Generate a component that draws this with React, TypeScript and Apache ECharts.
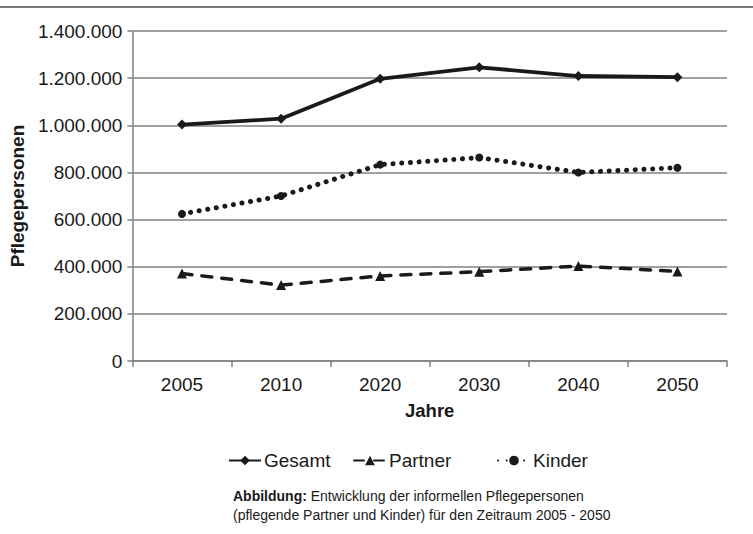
import React, { useEffect, useRef } from "react";
import * as echarts from "echarts";

const years = ["2005", "2010", "2020", "2030", "2040", "2050"];
const gesamt = [1003000, 1028000, 1197000, 1246000, 1209000, 1204000];
const partner = [371000, 322000, 361000, 379000, 403000, 380000];
const kinder = [624000, 700000, 833000, 863000, 800000, 820000];
const yTicks = { min: 0, max: 1400000, interval: 200000 };

const FONT = "'Liberation Sans', Arial, sans-serif";
const INK = "#1a1a1a";

function fmt(v: number): string {
  return String(v).replace(/\B(?=(\d{3})+(?!\d))/g, ".");
}

export default function App() {
  const ref = useRef<HTMLDivElement>(null);
  useEffect(() => {
    if (!ref.current) return;
    const chart = echarts.init(ref.current, undefined, { renderer: "svg" });
    const legendBase = {
      top: 451,
      padding: 0,
      itemWidth: 32,
      itemHeight: 12,
      itemGap: 0,
      textStyle: { fontFamily: FONT, fontSize: 19, color: INK, padding: [0, 0, 0, -2] },
    };
    chart.setOption({
      animation: false,
      backgroundColor: "#ffffff",
      textStyle: { fontFamily: FONT },
      grid: { left: 126, right: 26, top: 31, bottom: 173, containLabel: false },
      legend: [
        { ...legendBase, left: 228, data: ["Gesamt"] },
        { ...legendBase, left: 353, data: ["Partner"] },
        { ...legendBase, left: 497, data: ["Kinder"] },
      ],
      graphic: [
        {
          type: "line",
          shape: { x1: 0, y1: 7, x2: 753, y2: 7 },
          style: { stroke: "#7a7a7a", lineWidth: 2 },
        },
        {
          type: "text",
          left: 233,
          top: 486,
          style: {
            text: "{b|Abbildung:} Entwicklung der informellen Pflegepersonen\n(pflegende Partner und Kinder) für den Zeitraum 2005 - 2050",
            fontFamily: FONT,
            fontSize: 14,
            lineHeight: 19,
            fill: INK,
            rich: {
              b: { fontWeight: "bold", fontFamily: FONT, fontSize: 14, fill: INK },
            },
          },
        },
      ],
      xAxis: {
        type: "category",
        data: years,
        boundaryGap: true,
        name: "Jahre",
        nameLocation: "middle",
        nameGap: 40,
        nameTextStyle: { fontFamily: FONT, fontSize: 18.5, fontWeight: "bold", color: INK },
        axisLine: { lineStyle: { color: "#808080", width: 1.5 } },
        axisTick: { show: true, length: 6, lineStyle: { color: "#808080", width: 1.5 } },
        axisLabel: { fontFamily: FONT, fontSize: 19, color: INK, margin: 14 },
        splitLine: { show: false },
      },
      yAxis: {
        type: "value",
        min: yTicks.min,
        max: yTicks.max,
        interval: yTicks.interval,
        name: "Pflegepersonen",
        nameLocation: "middle",
        nameGap: 100,
        nameTextStyle: { fontFamily: FONT, fontSize: 19, fontWeight: "bold", color: INK },
        axisLine: { show: true, lineStyle: { color: "#808080", width: 1.5 } },
        axisTick: { show: true, length: 5, lineStyle: { color: "#808080", width: 1.5 } },
        axisLabel: { fontFamily: FONT, fontSize: 19, color: INK, margin: 10, formatter: (v: number) => fmt(v) },
        splitLine: { show: true, lineStyle: { color: "#808080", width: 1.5 } },
      },
      series: [
        {
          name: "Gesamt",
          type: "line",
          data: gesamt,
          symbol: "diamond",
          symbolSize: 10,
          itemStyle: { color: INK },
          lineStyle: { color: INK, width: 3.8, type: "solid" },
        },
        {
          name: "Partner",
          type: "line",
          data: partner,
          symbol: "triangle",
          symbolSize: 10,
          itemStyle: { color: INK },
          lineStyle: { color: INK, width: 3.5, type: [10, 10], cap: "round" },
        },
        {
          name: "Kinder",
          type: "line",
          data: kinder,
          symbol: "circle",
          symbolSize: 8,
          itemStyle: { color: INK },
          lineStyle: { color: INK, width: 5, type: [0.1, 8.6], cap: "round" },
        },
      ],
    });
    return () => chart.dispose();
  }, []);
  return <div ref={ref} style={{ width: 753, height: 534, position: "absolute", left: 0, top: 0 }} />;
}
